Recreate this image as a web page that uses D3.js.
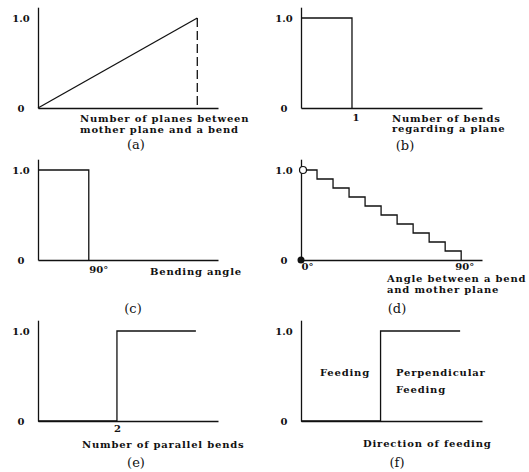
<!DOCTYPE html>
<html lang="en">
<head>
  <meta charset="utf-8">
  <title>Six step charts</title>
  <style>
    body { margin: 0; background: #fff; }
    svg text {
      font-family: "DejaVu Serif", serif;
      font-weight: bold;
      font-size: 10px;
      fill: #111;
    }
    .title { letter-spacing: 0.8px; }
    .axis path { stroke: #111; stroke-width: 1.3; fill: none; }
    .curve { fill: none; stroke: #111; stroke-width: 1.3; }
  </style>
</head>
<body>
<div id="chart"></div>
<script src="https://d3js.org/d3.v7.min.js"></script>
<script>
  // panel data (x positions and y values of each curve)
  const aX = [0, 1];
  const aY = [0, 1.0];
  const bX = [0, 1];
  const bY = [1.0, 0];
  const cX = [0, 90];
  const cY = [1.0, 0];
  const dX = [0, 9, 18, 27, 36, 45, 54, 63, 72, 81, 90];
  const dY = [1.0, 0.9, 0.8, 0.7, 0.6, 0.5, 0.4, 0.3, 0.2, 0.1, 0];
  const eX = [0, 2, 4];
  const eY = [0, 1.0, 1.0];
  const fX = [0, 1, 2];
  const fY = [0, 1.0, 1.0];

  const yTicks = [0, 1];
  const yTickLabels = ["0", "1.0"];

  const bTicks = [1], bTickLabels = ["1"];
  const cTicks = [90], cTickLabels = ["90°"];
  const dTicks = [0, 90], dTickLabels = ["0°", "90°"];
  const eTicks = [2], eTickLabels = ["2"];

  const width = 529, height = 472;

  const svg = d3.select("#chart")
    .append("svg")
    .attr("width", width)
    .attr("height", height);

  const cols = [{ x0: 38, x1: 218 }, { x0: 301, x1: 482 }];
  const rows = [{ y0: 108 }, { y0: 260 }, { y0: 421 }];

  const panels = [
    { col: 0, row: 0, xs: aX, ys: aY, xMax: 1.13, step: false,
      ticks: [], labels: [], pad: 7,
      title: ["Number of planes between", "mother plane and a bend"], tx: 80, ty: [122, 133],
      letter: "(a)", lx: 136, ly: 149 },
    { col: 1, row: 0, xs: bX, ys: bY, xMax: 3.55, step: true,
      ticks: bTicks, labels: bTickLabels, anchor: "start", pad: 6,
      title: ["Number of bends", "regarding a plane"], tx: 392, ty: [122, 132],
      letter: "(b)", lx: 405, ly: 150 },
    { col: 0, row: 1, xs: cX, ys: cY, xMax: 319, step: true,
      ticks: cTicks, labels: cTickLabels, anchor: "start", pad: 6,
      title: ["Bending angle"], tx: 150, ty: [275],
      letter: "(c)", lx: 133, ly: 313 },
    { col: 1, row: 1, xs: dX, ys: dY, xMax: 101.7, step: true,
      ticks: dTicks, labels: dTickLabels, anchor: "start", pad: 3,
      title: ["Angle between a bend", "and mother plane"], tx: 387, ty: [282, 293],
      letter: "(d)", lx: 397, ly: 313 },
    { col: 0, row: 2, xs: eX, ys: eY, xMax: 4.56, step: true,
      ticks: eTicks, labels: eTickLabels, anchor: "middle", pad: 4,
      title: ["Number of parallel bends"], tx: 82, ty: [448],
      letter: "(e)", lx: 136, ly: 467 },
    { col: 1, row: 2, xs: fX, ys: fY, xMax: 2.275, step: true,
      ticks: [], labels: [], pad: 5,
      title: ["Direction of feeding"], tx: 363, ty: [447],
      letter: "(f)", lx: 397, ly: 467 }
  ];

  panels.forEach((p, i) => {
    const c = cols[p.col], r = rows[p.row];
    const x = d3.scaleLinear().domain([0, p.xMax]).range([c.x0, c.x1]);
    const y = d3.scaleLinear().domain([0, 1.12]).range([r.y0, r.y0 - 100.8]);

    const g = svg.append("g");

    // x axis
    const xa = g.append("g")
      .attr("class", "axis")
      .attr("transform", `translate(0,${r.y0})`)
      .call(d3.axisBottom(x)
        .tickValues(p.ticks)
        .tickFormat((d, k) => p.labels[k])
        .tickSize(0)
        .tickSizeOuter(0)
        .tickPadding(p.pad));
    xa.selectAll(".tick text")
      .attr("text-anchor", (d, k) => (i === 3 && k === 1) ? "middle" : p.anchor)
      .attr("dx", (d, k) => (i === 3 && k === 1) ? 3 : 0);

    // y axis
    const ya = g.append("g")
      .attr("class", "axis")
      .attr("transform", `translate(${c.x0},0)`)
      .call(d3.axisLeft(y)
        .tickValues(yTicks)
        .tickFormat((d, k) => yTickLabels[k])
        .tickSize(0)
        .tickSizeOuter(0));
    ya.select(".domain").attr("stroke-width", 1.6);
    ya.selectAll(".tick text")
      .attr("text-anchor", "middle")
      .attr("x", -17);

    // curve
    const pts = p.xs.map((v, k) => [v, p.ys[k]]);
    const line = d3.line()
      .x(d => x(d[0]))
      .y(d => y(d[1]))
      .curve(p.step ? d3.curveStepAfter : d3.curveLinear);
    g.append("path")
      .attr("class", "curve")
      .attr("d", line(pts));

    if (i === 0) {
      // dashed drop line at the end of (a)
      g.append("line")
        .attr("class", "curve")
        .attr("x1", x(aX[1])).attr("x2", x(aX[1]))
        .attr("y1", y(aY[1])).attr("y2", y(0))
        .attr("stroke-dasharray", "9,4");
    }

    if (i === 3) {
      g.append("circle")
        .attr("cx", x(dX[0]) + 2).attr("cy", y(dY[0]))
        .attr("r", 3.5)
        .attr("fill", "#fff").attr("stroke", "#111").attr("stroke-width", 1.2);
      g.append("circle")
        .attr("cx", x(0)).attr("cy", y(0))
        .attr("r", 3.5)
        .attr("fill", "#111");
    }

    if (i === 5) {
      g.append("text").attr("class", "title").attr("x", 320).attr("y", 376).text("Feeding");
      g.append("text").attr("class", "title").attr("x", 396).attr("y", 376).text("Perpendicular");
      g.append("text").attr("class", "title").attr("x", 396).attr("y", 393).text("Feeding");
    }

    p.title.forEach((t, k) => {
      g.append("text")
        .attr("class", "title")
        .attr("x", p.tx)
        .attr("y", p.ty[k])
        .text(t);
    });

    g.append("text")
      .attr("x", p.lx)
      .attr("y", p.ly)
      .attr("text-anchor", "middle")
      .style("font-size", "13px")
      .style("font-weight", "normal")
      .text(p.letter);
  });
</script>
</body>
</html>
